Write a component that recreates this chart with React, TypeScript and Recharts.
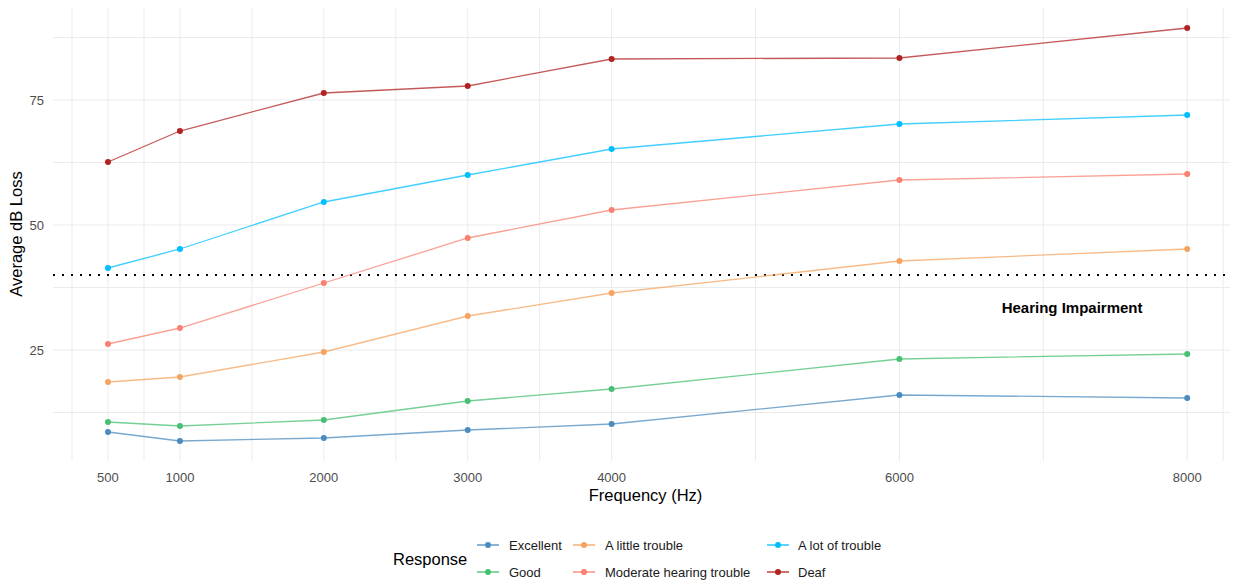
import { LineChart, Line, XAxis, YAxis, ReferenceLine, ReferenceDot } from 'recharts';

const frequencies = [500, 1000, 2000, 3000, 4000, 6000, 8000];

const excellent = [8.6, 6.8, 7.4, 9.0, 10.2, 16.0, 15.4];
const good = [10.6, 9.8, 11.0, 14.8, 17.2, 23.2, 24.2];
const littleTrouble = [18.6, 19.6, 24.6, 31.8, 36.4, 42.8, 45.2];
const moderateTrouble = [26.2, 29.4, 38.4, 47.4, 53.0, 59.0, 60.2];
const lotOfTrouble = [41.4, 45.2, 54.6, 60.0, 65.2, 70.2, 72.0];
const deaf = [62.6, 68.8, 76.4, 77.8, 83.2, 83.4, 89.4];

const xTicks = [500, 1000, 2000, 3000, 4000, 6000, 8000];
const xMinorGrid = [250, 750, 1500, 2500, 3500, 5000, 7000, 8250];
const yTicks = [25, 50, 75];
const yMinorGrid = [12.5, 37.5, 62.5, 87.5];

const thresholdDb = 40;
const thresholdLabel = 'Hearing Impairment';

const series = [
  { name: 'Excellent', key: 'excellent', values: excellent, color: '#4b8bbe' },
  { name: 'Good', key: 'good', values: good, color: '#48c072' },
  { name: 'A little trouble', key: 'little', values: littleTrouble, color: '#f4a460' },
  { name: 'Moderate hearing trouble', key: 'moderate', values: moderateTrouble, color: '#fa8072' },
  { name: 'A lot of trouble', key: 'lot', values: lotOfTrouble, color: '#00bfff' },
  { name: 'Deaf', key: 'deaf', values: deaf, color: '#b22222' },
];

const chartData = frequencies.map((f, i) => {
  const row: any = { freq: f };
  series.forEach((s) => {
    row[s.key] = s.values[i];
  });
  return row;
});

const font = '"Liberation Sans", Arial, sans-serif';
const gridColor = '#ebebeb';

// legend laid out by columns like ggplot: 2 rows
const legendCols = [
  { x: 477, textX: 509 },
  { x: 573, textX: 605 },
  { x: 767, textX: 798 },
];
const legendRows = [545, 572];

export default function App() {
  return (
    <div style={{ position: 'relative', width: 1238, height: 583, margin: '-8px 0 0 -8px', fontFamily: font, background: '#fff' }}>
      <LineChart
        width={1238}
        height={583}
        data={chartData}
        margin={{ top: 7, right: 0, left: 0, bottom: 82 }}
      >
        {xMinorGrid.concat(xTicks).map((v) => (
          <ReferenceLine key={'vx' + v} x={v} stroke={gridColor} strokeWidth={1} />
        ))}
        {yMinorGrid.concat(yTicks).map((v) => (
          <ReferenceLine key={'hy' + v} y={v} stroke={gridColor} strokeWidth={1} />
        ))}
        <XAxis
          dataKey="freq"
          type="number"
          domain={[118, 8353]}
          ticks={xTicks}
          allowDataOverflow
          axisLine={false}
          tickLine={false}
          height={40}
          tick={{ fill: '#4d4d4d', fontSize: 13, fontFamily: font }}
          tickMargin={6}
          label={{ value: 'Frequency (Hz)', position: 'insideBottom', offset: 0, fill: '#000', fontSize: 16.5, fontFamily: font }}
        />
        <YAxis
          type="number"
          domain={[2.8, 93.6]}
          ticks={yTicks}
          allowDataOverflow
          axisLine={false}
          tickLine={false}
          width={53}
          tick={{ fill: '#4d4d4d', fontSize: 13, fontFamily: font }}
          tickMargin={3}
          label={{ value: 'Average dB Loss', angle: -90, position: 'insideLeft', offset: 16, fill: '#000', fontSize: 16.5, fontFamily: font, style: { textAnchor: 'middle' } }}
        />
        <ReferenceLine y={thresholdDb} stroke="#000" strokeWidth={2.2} strokeDasharray="2 7" />
        <ReferenceDot
          x={7200}
          y={33.4}
          r={0}
          stroke="none"
          label={{ value: thresholdLabel, position: 'center', fill: '#000', fontSize: 15, fontWeight: 'bold', fontFamily: font }}
        />
        {series.map((s) => (
          <Line
            key={s.key}
            dataKey={s.key}
            name={s.name}
            type="linear"
            stroke={s.color}
            strokeOpacity={0.75}
            strokeWidth={1.3}
            dot={{ r: 3, fill: s.color, stroke: 'none', fillOpacity: 1 }}
            activeDot={false}
            isAnimationActive={false}
          />
        ))}
      </LineChart>

      <svg width={1238} height={583} style={{ position: 'absolute', left: 0, top: 0, pointerEvents: 'none' }}>
        <text x={393} y={559} dominantBaseline="central" fontSize={16.5} fill="#000" fontFamily={font}>
          Response
        </text>
        {series.map((s, i) => {
          const col = legendCols[Math.floor(i / 2)];
          const y = legendRows[i % 2];
          return (
            <g key={s.key}>
              <line x1={col.x} x2={col.x + 22} y1={y} y2={y} stroke={s.color} strokeWidth={1.3} />
              <circle cx={col.x + 11} cy={y} r={3} fill={s.color} />
              <text x={col.textX} y={y} dominantBaseline="central" fontSize={13} fill="#1a1a1a" fontFamily={font}>
                {s.name}
              </text>
            </g>
          );
        })}
      </svg>
    </div>
  );
}
